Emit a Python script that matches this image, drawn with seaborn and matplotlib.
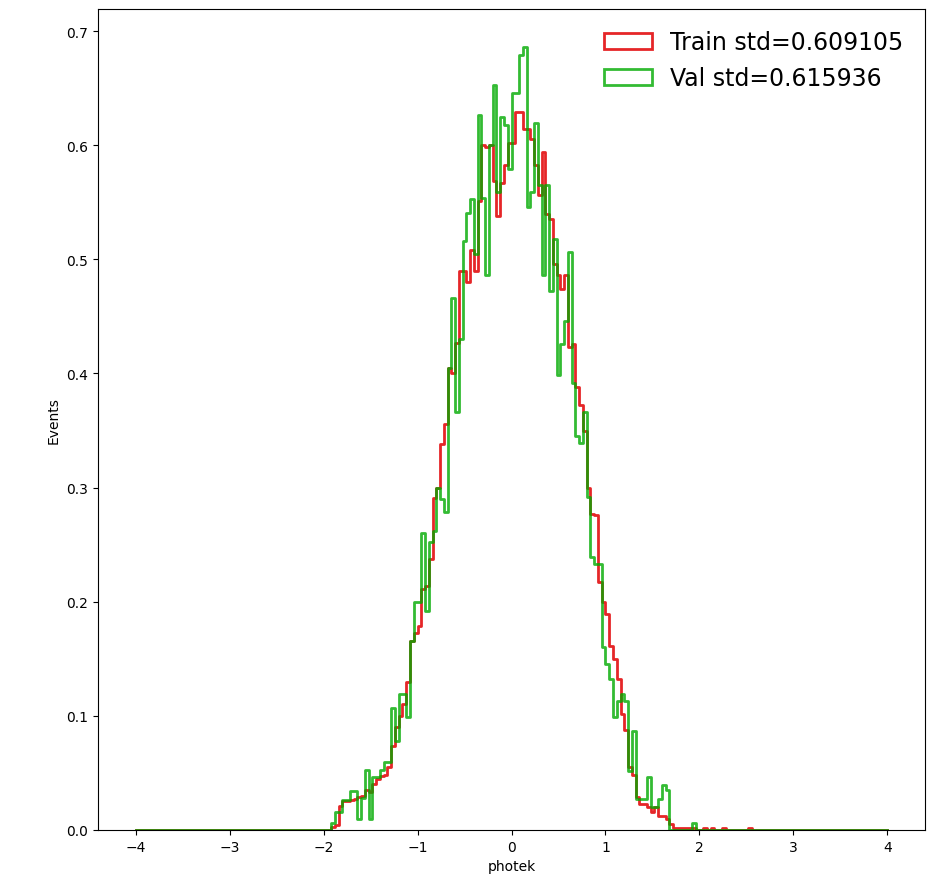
import numpy as np
import pandas as pd
import matplotlib
matplotlib.use("Agg")
import matplotlib.pyplot as plt
import seaborn as sns
from matplotlib.patches import Patch

# ---------------- data ----------------
hist_range = (-4.0, 4.0)
n_bins = 200
first_bin_left = -2.00          # left edge of first listed bin, bins are 0.04 wide

train_density = [
    0.000, 0.000, 0.003, 0.004, 0.021, 0.025, 0.025, 0.026, 0.027, 0.029,   # -2.00 .. -1.64
    0.030, 0.035, 0.033, 0.040, 0.045, 0.047, 0.048, 0.055, 0.074, 0.090,   # -1.60 .. -1.24
    0.100, 0.110, 0.130, 0.166, 0.173, 0.179, 0.211, 0.214, 0.237, 0.291,   # -1.20 .. -0.84
    0.300, 0.338, 0.356, 0.405, 0.400, 0.427, 0.490, 0.490, 0.480, 0.508,   # -0.80 .. -0.44
    0.490, 0.551, 0.600, 0.598, 0.600, 0.569, 0.538, 0.567, 0.583, 0.602,   # -0.40 .. -0.04
    0.602, 0.629, 0.629, 0.614, 0.614, 0.605, 0.583, 0.556, 0.594, 0.540,   #  0.00 ..  0.36
    0.535, 0.496, 0.486, 0.474, 0.486, 0.423, 0.426, 0.388, 0.372, 0.350,   #  0.40 ..  0.76
    0.300, 0.277, 0.276, 0.217, 0.200, 0.189, 0.161, 0.150, 0.132, 0.102,   #  0.80 ..  1.16
    0.088, 0.055, 0.048, 0.029, 0.023, 0.023, 0.020, 0.016, 0.020, 0.0125,  #  1.20 ..  1.56
    0.0125, 0.010, 0.005, 0.0017, 0.0017, 0.0017, 0.0017, 0.0017, 0.0017, 0.0,  # 1.60 .. 1.96
    0.000, 0.0017, 0.000, 0.0017, 0.000, 0.000, 0.0017, 0.000, 0.000, 0.000,  #  2.00 ..  2.36
    0.000, 0.000, 0.000, 0.0017, 0.000, 0.000,                                  #  2.40 ..  2.60
]

val_density = [
    0.000, 0.000, 0.006, 0.016, 0.016, 0.026, 0.026, 0.034, 0.034, 0.010,   # -2.00 .. -1.64
    0.028, 0.053, 0.010, 0.046, 0.046, 0.053, 0.060, 0.060, 0.107, 0.078,   # -1.60 .. -1.24
    0.119, 0.119, 0.099, 0.166, 0.200, 0.200, 0.260, 0.192, 0.252, 0.262,   # -1.20 .. -0.84
    0.300, 0.290, 0.279, 0.405, 0.466, 0.366, 0.430, 0.516, 0.541, 0.553,   # -0.80 .. -0.44
    0.505, 0.626, 0.554, 0.486, 0.600, 0.653, 0.559, 0.625, 0.618, 0.579,   # -0.40 .. -0.04
    0.646, 0.646, 0.679, 0.686, 0.546, 0.559, 0.619, 0.565, 0.486, 0.565,   #  0.00 ..  0.36
    0.472, 0.518, 0.399, 0.426, 0.446, 0.506, 0.392, 0.345, 0.339, 0.366,   #  0.40 ..  0.76
    0.292, 0.239, 0.233, 0.233, 0.160, 0.145, 0.132, 0.099, 0.113, 0.119,   #  0.80 ..  1.16
    0.113, 0.052, 0.087, 0.027, 0.027, 0.027, 0.046, 0.020, 0.020, 0.027,   #  1.20 ..  1.56
    0.039, 0.035, 0.000, 0.000, 0.000, 0.000, 0.000, 0.000, 0.006, 0.000,   #  1.60 ..  1.96
]

train_label = "Train std=0.609105"
val_label = "Val std=0.615936"
x_label = "photek"
y_label = "Events"

train_color = "#e41a1c"
val_color = "#00aa00"

# ---------------- build full histogram tables ----------------
edges = np.linspace(hist_range[0], hist_range[1], n_bins + 1)
width = edges[1] - edges[0]
centers = edges[:-1] + width / 2
start = int(round((first_bin_left - hist_range[0]) / width))


def full_weights(vals):
    w = np.zeros(n_bins)
    w[start:start + len(vals)] = vals
    return w


df_train = pd.DataFrame({"x": centers, "w": full_weights(train_density)})
df_val = pd.DataFrame({"x": centers, "w": full_weights(val_density)})

# ---------------- plot ----------------
fig = plt.figure(figsize=(9.49, 8.79), dpi=100)
ax = fig.add_axes([98 / 949, 48 / 879, 827 / 949, 821 / 879])

edge_list = edges.tolist()
sns.histplot(data=df_train, x="x", weights="w", bins=edge_list, element="step",
             fill=False, color=train_color, linewidth=2.0, alpha=0.95, ax=ax)
sns.histplot(data=df_val, x="x", weights="w", bins=edge_list, element="step",
             fill=False, color=val_color, linewidth=2.0, alpha=0.8, ax=ax)

ax.set_xlim(-4.4, 4.4)
ax.set_ylim(0, 0.7193)
ax.set_xlabel(x_label)
ax.set_ylabel(y_label)

handles = [
    Patch(facecolor="none", edgecolor=train_color, linewidth=2.0, alpha=0.95, label=train_label),
    Patch(facecolor="none", edgecolor=val_color, linewidth=2.0, alpha=0.8, label=val_label),
]
ax.legend(handles=handles, loc="upper right", fontsize=17, frameon=False)

fig.savefig("out.png", dpi=100)
